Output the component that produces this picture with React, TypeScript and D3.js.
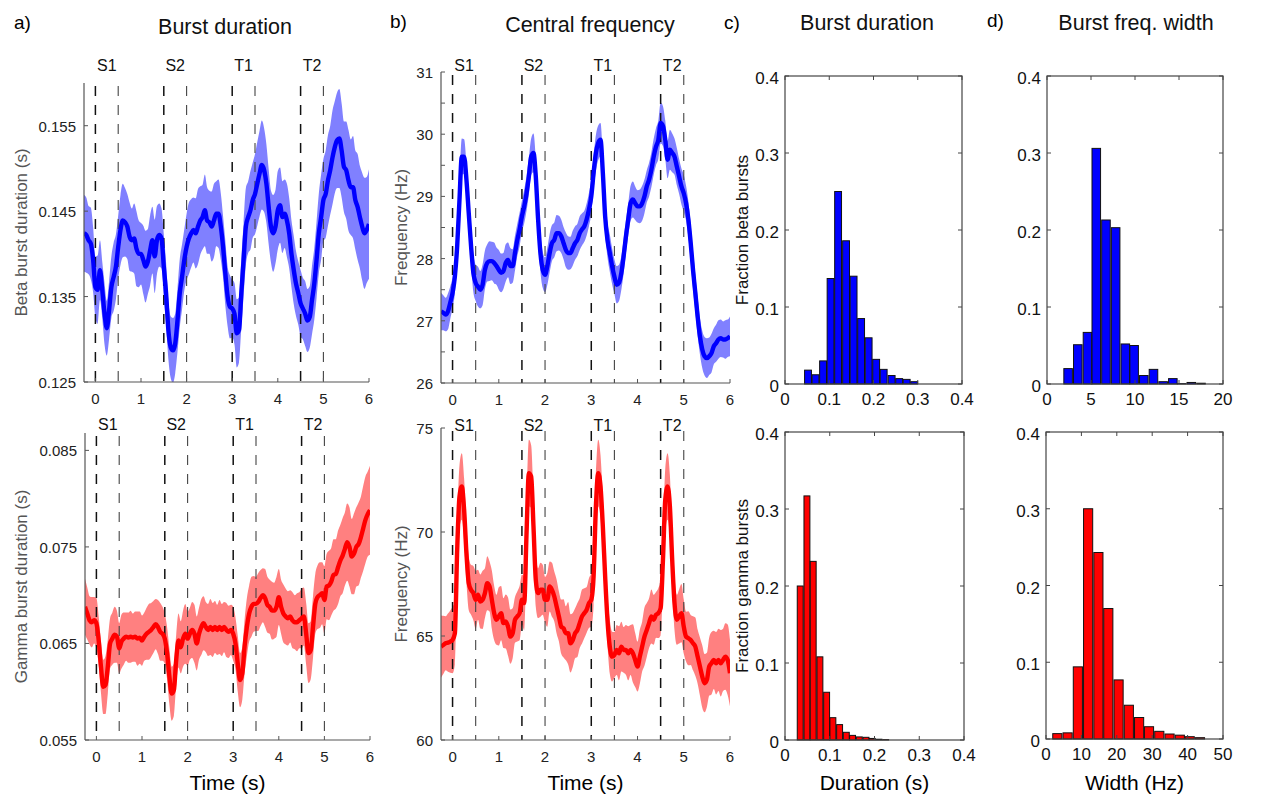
import React from 'react';
import * as d3 from 'd3';

const FONT = '"Liberation Sans", Arial, Helvetica, sans-serif';

// shared time grid of the trial-averaged traces (s)
const time = d3.range(-0.25, 6.0001, 0.05);

const eventLines = [0, 0.5, 1.5, 2, 3, 3.5, 4.5, 5];
const eventOnsets = [0, 1.5, 3, 4.5];
const eventNames = ['S1', 'S2', 'T1', 'T2'];
const eventMid = [0.25, 1.75, 3.25, 4.75];
const timeTicks = [0, 1, 2, 3, 4, 5, 6];

// a) beta burst duration (s)
const betaDurMean = [
  0.1424, 0.1422, 0.1416, 0.1412, 0.1393, 0.1361, 0.1358, 0.1381, 0.1358, 0.1330,
  0.1313, 0.1334, 0.1361, 0.1373, 0.1385, 0.1408, 0.1428, 0.1439, 0.1437, 0.1432,
  0.1420, 0.1416, 0.1418, 0.1406, 0.1400, 0.1400, 0.1393, 0.1385, 0.1391, 0.1404,
  0.1416, 0.1397, 0.1416, 0.1422, 0.1418, 0.1385, 0.1354, 0.1311, 0.1291, 0.1287,
  0.1295, 0.1322, 0.1354, 0.1373, 0.1393, 0.1408, 0.1418, 0.1424, 0.1428, 0.1424,
  0.1432, 0.1439, 0.1443, 0.1451, 0.1439, 0.1437, 0.1432, 0.1439, 0.1447, 0.1447,
  0.1432, 0.1408, 0.1377, 0.1350, 0.1338, 0.1336, 0.1330, 0.1307, 0.1311, 0.1354,
  0.1393, 0.1432, 0.1443, 0.1451, 0.1463, 0.1470, 0.1482, 0.1494, 0.1504, 0.1498,
  0.1482, 0.1455, 0.1432, 0.1424, 0.1432, 0.1451, 0.1457, 0.1443, 0.1447, 0.1439,
  0.1424, 0.1400, 0.1381, 0.1365, 0.1354, 0.1342, 0.1336, 0.1330, 0.1322, 0.1326,
  0.1346, 0.1365, 0.1393, 0.1424, 0.1443, 0.1463, 0.1470, 0.1486, 0.1498, 0.1513,
  0.1525, 0.1533, 0.1535, 0.1521, 0.1502, 0.1498, 0.1486, 0.1478, 0.1478, 0.1463,
  0.1455, 0.1443, 0.1432, 0.1424, 0.1428, 0.1435,
];
const betaDurSem = [
  0.0045, 0.0044, 0.0040, 0.0042, 0.0038, 0.0036, 0.0040, 0.0035, 0.0033, 0.0036,
  0.0032, 0.0034, 0.0036, 0.0040, 0.0038, 0.0037, 0.0041, 0.0043, 0.0040, 0.0038,
  0.0040, 0.0037, 0.0041, 0.0044, 0.0039, 0.0036, 0.0040, 0.0042, 0.0038, 0.0041,
  0.0039, 0.0043, 0.0040, 0.0037, 0.0035, 0.0038, 0.0036, 0.0034, 0.0036, 0.0038,
  0.0035, 0.0037, 0.0040, 0.0038, 0.0036, 0.0039, 0.0042, 0.0040, 0.0038, 0.0041,
  0.0044, 0.0040, 0.0038, 0.0042, 0.0039, 0.0037, 0.0041, 0.0043, 0.0038, 0.0040,
  0.0039, 0.0036, 0.0038, 0.0035, 0.0037, 0.0034, 0.0036, 0.0040, 0.0038, 0.0041,
  0.0043, 0.0045, 0.0042, 0.0046, 0.0044, 0.0047, 0.0049, 0.0050, 0.0052, 0.0049,
  0.0046, 0.0044, 0.0042, 0.0045, 0.0043, 0.0046, 0.0044, 0.0042, 0.0040, 0.0043,
  0.0041, 0.0039, 0.0040, 0.0038, 0.0037, 0.0039, 0.0036, 0.0038, 0.0037, 0.0036,
  0.0040, 0.0042, 0.0045, 0.0047, 0.0050, 0.0048, 0.0051, 0.0053, 0.0052, 0.0055,
  0.0054, 0.0056, 0.0058, 0.0055, 0.0053, 0.0057, 0.0059, 0.0056, 0.0060, 0.0058,
  0.0062, 0.0060, 0.0063, 0.0065, 0.0062, 0.0064,
];

// a) gamma burst duration (s)
const gammaDurMean = [
  0.0688, 0.0681, 0.0674, 0.0672, 0.0674, 0.0671, 0.0653, 0.0626, 0.0605, 0.0607,
  0.0626, 0.0650, 0.0655, 0.0659, 0.0657, 0.0645, 0.0652, 0.0655, 0.0657, 0.0656,
  0.0657, 0.0656, 0.0657, 0.0655, 0.0656, 0.0653, 0.0657, 0.0660, 0.0662, 0.0664,
  0.0667, 0.0670, 0.0667, 0.0662, 0.0660, 0.0655, 0.0640, 0.0616, 0.0598, 0.0602,
  0.0633, 0.0653, 0.0646, 0.0655, 0.0660, 0.0655, 0.0660, 0.0664, 0.0660, 0.0650,
  0.0660, 0.0667, 0.0671, 0.0667, 0.0664, 0.0667, 0.0664, 0.0667, 0.0664, 0.0667,
  0.0664, 0.0667, 0.0664, 0.0662, 0.0664, 0.0660, 0.0650, 0.0629, 0.0612, 0.0619,
  0.0647, 0.0667, 0.0681, 0.0688, 0.0691, 0.0691, 0.0693, 0.0697, 0.0700, 0.0697,
  0.0690, 0.0688, 0.0684, 0.0684, 0.0688, 0.0698, 0.0688, 0.0681, 0.0678, 0.0676,
  0.0678, 0.0674, 0.0672, 0.0672, 0.0674, 0.0676, 0.0678, 0.0660, 0.0640, 0.0643,
  0.0667, 0.0691, 0.0698, 0.0700, 0.0702, 0.0695, 0.0709, 0.0710, 0.0714, 0.0721,
  0.0722, 0.0729, 0.0736, 0.0741, 0.0748, 0.0755, 0.0750, 0.0740, 0.0743, 0.0750,
  0.0753, 0.0760, 0.0769, 0.0778, 0.0784, 0.0788,
];
const gammaDurSem = [
  0.0029, 0.0027, 0.0025, 0.0026, 0.0024, 0.0026, 0.0025, 0.0027, 0.0028, 0.0030,
  0.0028, 0.0026, 0.0027, 0.0029, 0.0027, 0.0026, 0.0028, 0.0027, 0.0025, 0.0026,
  0.0027, 0.0025, 0.0026, 0.0028, 0.0027, 0.0026, 0.0025, 0.0027, 0.0029, 0.0028,
  0.0027, 0.0026, 0.0028, 0.0030, 0.0028, 0.0026, 0.0027, 0.0029, 0.0028, 0.0027,
  0.0026, 0.0028, 0.0027, 0.0029, 0.0031, 0.0028, 0.0027, 0.0029, 0.0030, 0.0028,
  0.0027, 0.0029, 0.0028, 0.0026, 0.0027, 0.0029, 0.0028, 0.0027, 0.0026, 0.0028,
  0.0027, 0.0026, 0.0028, 0.0027, 0.0026, 0.0028, 0.0027, 0.0029, 0.0028, 0.0027,
  0.0028, 0.0030, 0.0029, 0.0031, 0.0029, 0.0028, 0.0030, 0.0029, 0.0028, 0.0030,
  0.0029, 0.0028, 0.0030, 0.0029, 0.0031, 0.0029, 0.0028, 0.0030, 0.0029, 0.0028,
  0.0027, 0.0029, 0.0028, 0.0030, 0.0029, 0.0031, 0.0030, 0.0032, 0.0031, 0.0030,
  0.0032, 0.0031, 0.0033, 0.0034, 0.0032, 0.0035, 0.0034, 0.0036, 0.0035, 0.0037,
  0.0036, 0.0038, 0.0037, 0.0039, 0.0038, 0.0040, 0.0041, 0.0039, 0.0042, 0.0041,
  0.0043, 0.0042, 0.0044, 0.0045, 0.0044, 0.0046,
];

// b) beta central frequency (Hz)
const betaFreqMean = [
  27.15, 27.13, 27.10, 27.15, 27.29, 27.45, 27.71, 28.20, 28.95, 29.64,
  29.64, 29.27, 28.73, 28.20, 27.77, 27.61, 27.55, 27.50, 27.58, 27.82,
  27.93, 27.96, 27.96, 27.93, 27.88, 27.82, 27.77, 27.80, 27.93, 27.98,
  27.88, 27.88, 28.09, 28.30, 28.47, 28.68, 28.84, 29.05, 29.32, 29.64,
  29.70, 29.32, 28.63, 28.09, 27.82, 27.74, 27.88, 28.09, 28.25, 28.30,
  28.41, 28.41, 28.36, 28.25, 28.14, 28.09, 28.09, 28.17, 28.25, 28.30,
  28.41, 28.47, 28.52, 28.63, 28.79, 29.00, 29.38, 29.70, 29.86, 29.91,
  29.38, 28.68, 28.30, 28.09, 27.88, 27.71, 27.58, 27.61, 27.77, 28.04,
  28.36, 28.63, 28.89, 28.95, 28.89, 28.84, 28.84, 28.89, 29.00, 29.16,
  29.27, 29.43, 29.64, 29.80, 29.91, 30.18, 30.13, 29.91, 29.59, 29.75,
  29.70, 29.64, 29.48, 29.32, 29.16, 29.05, 28.89, 28.63, 28.25, 27.82,
  27.45, 27.07, 26.75, 26.54, 26.43, 26.40, 26.43, 26.48, 26.59, 26.64,
  26.70, 26.72, 26.70, 26.70, 26.72, 26.75,
];
const betaFreqSem = [
  0.30, 0.28, 0.27, 0.29, 0.26, 0.25, 0.27, 0.28, 0.30, 0.29,
  0.28, 0.27, 0.29, 0.30, 0.31, 0.29, 0.32, 0.30, 0.33, 0.31,
  0.30, 0.32, 0.31, 0.33, 0.30, 0.32, 0.31, 0.29, 0.30, 0.28,
  0.29, 0.27, 0.28, 0.26, 0.27, 0.25, 0.27, 0.28, 0.30, 0.29,
  0.31, 0.29, 0.28, 0.30, 0.29, 0.28, 0.30, 0.31, 0.29, 0.28,
  0.29, 0.28, 0.27, 0.26, 0.28, 0.27, 0.26, 0.28, 0.27, 0.26,
  0.27, 0.26, 0.25, 0.26, 0.27, 0.28, 0.27, 0.29, 0.28, 0.27,
  0.26, 0.27, 0.28, 0.30, 0.29, 0.28, 0.30, 0.29, 0.27, 0.28,
  0.27, 0.26, 0.28, 0.29, 0.27, 0.26, 0.27, 0.28, 0.27, 0.26,
  0.27, 0.28, 0.29, 0.30, 0.31, 0.33, 0.32, 0.31, 0.30, 0.32,
  0.31, 0.29, 0.30, 0.28, 0.29, 0.30, 0.28, 0.29, 0.30, 0.31,
  0.30, 0.31, 0.29, 0.30, 0.31, 0.32, 0.30, 0.31, 0.29, 0.30,
  0.31, 0.30, 0.29, 0.31, 0.30, 0.32,
];

// b) gamma central frequency (Hz)
const gammaFreqMean = [
  64.49, 64.57, 64.65, 64.68, 64.73, 64.81, 65.13, 69.14, 71.71, 72.19,
  71.07, 68.98, 67.54, 67.22, 67.06, 66.74, 66.98, 66.66, 66.74, 67.06,
  67.54, 67.38, 66.74, 66.10, 65.78, 65.94, 66.10, 65.62, 65.70, 65.45,
  64.97, 65.13, 65.78, 65.94, 66.10, 66.74, 66.58, 69.95, 72.83, 72.67,
  70.27, 67.70, 67.06, 67.22, 67.22, 66.74, 66.74, 67.38, 67.22, 66.90,
  66.42, 65.94, 65.45, 65.37, 65.13, 65.13, 64.65, 64.81, 65.13, 65.29,
  65.62, 65.94, 66.10, 66.26, 66.58, 66.74, 67.86, 71.23, 72.83, 72.19,
  70.27, 67.86, 65.78, 64.49, 64.01, 64.09, 64.33, 64.17, 64.49, 64.33,
  64.33, 64.17, 64.33, 64.17, 63.85, 63.53, 64.01, 64.49, 64.97, 65.29,
  65.62, 65.94, 65.78, 66.02, 66.10, 66.34, 68.66, 71.55, 72.19, 71.23,
  68.66, 66.58, 65.78, 65.94, 66.10, 65.45, 64.97, 64.89, 64.81, 64.65,
  64.49, 64.01, 63.53, 63.05, 62.73, 62.89, 63.53, 63.69, 63.85, 63.69,
  63.85, 63.69, 63.85, 64.01, 63.85, 63.21,
];
const gammaFreqSem = [
  1.5, 1.4, 1.3, 1.4, 1.5, 1.6, 1.5, 1.4, 1.5, 1.6,
  1.5, 1.4, 1.3, 1.2, 1.3, 1.4, 1.2, 1.3, 1.4, 1.2,
  1.3, 1.2, 1.4, 1.3, 1.2, 1.4, 1.3, 1.2, 1.3, 1.4,
  1.3, 1.2, 1.1, 1.2, 1.3, 1.2, 1.3, 1.5, 1.6, 1.5,
  1.4, 1.3, 1.2, 1.3, 1.2, 1.1, 1.3, 1.2, 1.3, 1.2,
  1.3, 1.2, 1.3, 1.4, 1.3, 1.5, 1.4, 1.3, 1.2, 1.3,
  1.2, 1.3, 1.2, 1.1, 1.2, 1.3, 1.4, 1.5, 1.6, 1.5,
  1.4, 1.3, 1.2, 1.3, 1.2, 1.1, 1.2, 1.3, 1.2, 1.1,
  1.2, 1.3, 1.2, 1.4, 1.3, 1.2, 1.3, 1.2, 1.4, 1.3,
  1.2, 1.3, 1.2, 1.1, 1.2, 1.3, 1.4, 1.5, 1.6, 1.5,
  1.4, 1.3, 1.2, 1.3, 1.4, 1.3, 1.2, 1.3, 1.2, 1.3,
  1.4, 1.3, 1.4, 1.5, 1.4, 1.3, 1.4, 1.5, 1.4, 1.5,
  1.5, 1.6, 1.5, 1.6, 1.7, 1.6,
];

// c) / d) histograms: bin centres and fraction of bursts
const betaDurBins = [0.052, 0.069, 0.086, 0.103, 0.120, 0.138, 0.155, 0.172, 0.189, 0.206, 0.223, 0.241, 0.258, 0.275, 0.292];
const betaDurFrac = [0.018, 0.012, 0.030, 0.137, 0.250, 0.186, 0.140, 0.085, 0.060, 0.032, 0.019, 0.011, 0.007, 0.006, 0.003];
const betaWidthBins = [2.4, 3.5, 4.6, 5.6, 6.7, 7.8, 8.9, 9.9, 11.0, 12.1, 13.2, 14.3, 15.3, 16.4, 17.5];
const betaWidthFrac = [0.020, 0.051, 0.067, 0.306, 0.213, 0.203, 0.052, 0.050, 0.011, 0.019, 0.003, 0.007, 0.0005, 0.002, 0.001];
const gammaDurBins = [0.034, 0.049, 0.063, 0.078, 0.093, 0.107, 0.122, 0.137, 0.151, 0.166, 0.181, 0.195, 0.210, 0.225];
const gammaDurFrac = [0.200, 0.317, 0.232, 0.108, 0.062, 0.029, 0.020, 0.010, 0.006, 0.004, 0.0035, 0.002, 0.001, 0.0005];
const gammaWidthBins = [3.2, 6.1, 9.0, 11.9, 14.8, 17.6, 20.5, 23.4, 26.3, 29.1, 32.0, 34.9, 37.8, 40.6, 43.5];
const gammaWidthFrac = [0.007, 0.008, 0.094, 0.300, 0.243, 0.170, 0.077, 0.044, 0.028, 0.016, 0.010, 0.0065, 0.005, 0.003, 0.0017];

const fracTicks = [0, 0.1, 0.2, 0.3, 0.4];
const durTicks = [0, 0.1, 0.2, 0.3, 0.4];
const betaWidthTicks = [0, 5, 10, 15, 20];
const gammaWidthTicks = [0, 10, 20, 30, 40, 50];

type Box = { left: number; right: number; top: number; bottom: number };

const TimePanel = ({ id, box, yDomain, yTicks, yLabels, fmt, mean, sem, line, band, ylabel, ylabelX, eventY, xlabel }: any) => {
  const x = d3.scaleLinear().domain([-0.25, 6]).range([box.left, box.right]);
  const y = d3.scaleLinear().domain(yDomain).range([box.bottom, box.top]);
  const pts = time.map((t, i) => ({ t, m: mean[i], s: sem[i] }));
  const area = d3.area<any>()
    .x(d => x(d.t)).y0(d => y(d.m - d.s)).y1(d => y(d.m + d.s))
    .curve(d3.curveMonotoneX);
  const ln = d3.line<any>().x(d => x(d.t)).y(d => y(d.m)).curve(d3.curveMonotoneX);
  const axisColor = '#555';
  return (
    <g>
      <clipPath id={id}>
        <rect x={box.left} y={box.top} width={box.right - box.left} height={box.bottom - box.top} />
      </clipPath>
      <g clipPath={`url(#${id})`}>
        <path d={area(pts) || ''} fill={band} stroke="none" />
      </g>
      {eventLines.map(t => {
        const onset = eventOnsets.includes(t);
        return (
          <line key={t} x1={x(t)} x2={x(t)} y1={box.top + 3} y2={box.bottom}
            stroke={onset ? '#111' : '#444'} strokeWidth={onset ? 1.5 : 1.1} strokeDasharray="10,9" />
        );
      })}
      <g clipPath={`url(#${id})`}>
        <path d={ln(pts) || ''} fill="none" stroke={line} strokeWidth={4.4} strokeLinejoin="round" />
      </g>
      {eventNames.map((n, i) => (
        <text key={n} x={x(eventMid[i])} y={eventY} textAnchor="middle" fontSize={16} fill="#111">{n}</text>
      ))}
      {/* axes */}
      <line x1={box.left} x2={box.left} y1={box.top} y2={box.bottom} stroke={axisColor} strokeWidth={1.2} />
      <line x1={box.left} x2={box.right} y1={box.bottom} y2={box.bottom} stroke={axisColor} strokeWidth={1.2} />
      {yTicks.map((v: number) => (
        <line key={'yt' + v} x1={box.left} x2={box.left + 4} y1={y(v)} y2={y(v)} stroke={axisColor} />
      ))}
      {yLabels.map((v: number) => (
        <text key={'yl' + v} x={box.left - 8} y={y(v) + 6} textAnchor="end" fontSize={15} fill="#222">{fmt(v)}</text>
      ))}
      {timeTicks.map(t => (
        <g key={'xt' + t}>
          <line x1={x(t)} x2={x(t)} y1={box.bottom} y2={box.bottom - 4} stroke={axisColor} />
          <text x={x(t)} y={box.bottom + 22} textAnchor="middle" fontSize={15} fill="#222">{t}</text>
        </g>
      ))}
      <text transform={`translate(${ylabelX},${(box.top + box.bottom) / 2}) rotate(-90)`}
        textAnchor="middle" fontSize={17} fill="#555">{ylabel}</text>
      {xlabel && (
        <text x={(box.left + box.right) / 2} y={790} textAnchor="middle" fontSize={21} fill="#000">{xlabel}</text>
      )}
    </g>
  );
};

const HistPanel = ({ box, xDomain, xTicks, bins, frac, binWidth, fill, ylabel, xlabel }: any) => {
  const x = d3.scaleLinear().domain(xDomain).range([box.left, box.right]);
  const y = d3.scaleLinear().domain([0, 0.4]).range([box.bottom, box.top]);
  const w = x(binWidth * 0.9) - x(0);
  const axisColor = '#444';
  return (
    <g>
      {bins.map((c: number, i: number) => (
        <rect key={i} x={x(c) - w / 2} y={y(frac[i])} width={w} height={y(0) - y(frac[i])}
          fill={fill} stroke="#111" strokeWidth={1} />
      ))}
      <rect x={box.left} y={box.top} width={box.right - box.left} height={box.bottom - box.top}
        fill="none" stroke={axisColor} strokeWidth={1.2} />
      {fracTicks.map(v => (
        <g key={'y' + v}>
          <line x1={box.left} x2={box.left + 4} y1={y(v)} y2={y(v)} stroke={axisColor} />
          <line x1={box.right} x2={box.right - 4} y1={y(v)} y2={y(v)} stroke={axisColor} />
          <text x={box.left - 6} y={y(v) + 8} textAnchor="end" fontSize={17} fill="#111">{v}</text>
        </g>
      ))}
      {xTicks.map((v: number) => (
        <g key={'x' + v}>
          <line x1={x(v)} x2={x(v)} y1={box.bottom} y2={box.bottom - 4} stroke={axisColor} />
          <line x1={x(v)} x2={x(v)} y1={box.top} y2={box.top + 4} stroke={axisColor} />
          <text x={x(v)} y={box.bottom + 21} textAnchor="middle" fontSize={17} fill="#111">{v}</text>
        </g>
      ))}
      {ylabel && (
        <text transform={`translate(${box.left - 37},${(box.top + box.bottom) / 2}) rotate(-90)`}
          textAnchor="middle" fontSize={17} fill="#111">{ylabel}</text>
      )}
      {xlabel && (
        <text x={(box.left + box.right) / 2} y={790} textAnchor="middle" fontSize={21} fill="#000">{xlabel}</text>
      )}
    </g>
  );
};

const boxA1: Box = { left: 84, right: 369, top: 83, bottom: 382 };
const boxA2: Box = { left: 85, right: 370, top: 433, bottom: 740 };
const boxB1: Box = { left: 441, right: 730, top: 72, bottom: 383 };
const boxB2: Box = { left: 441, right: 730, top: 428, bottom: 740 };
const boxC1: Box = { left: 785, right: 962, top: 76, bottom: 384 };
const boxD1: Box = { left: 1047, right: 1223, top: 76, bottom: 384 };
const boxC2: Box = { left: 785, right: 964, top: 432, bottom: 740 };
const boxD2: Box = { left: 1046, right: 1223, top: 432, bottom: 739 };

const f3 = (v: number) => v.toFixed(3);
const f0 = (v: number) => String(v);

export default function App() {
  return (
    <svg width={1266} height={797} style={{ position: 'absolute', left: 0, top: 0, background: '#fff' }}
      fontFamily={FONT}>
      <rect width={1266} height={797} fill="#fff" />
      <text x={14} y={29} fontSize={19} fill="#000">a)</text>
      <text x={390} y={28} fontSize={19} fill="#000">b)</text>
      <text x={724} y={29} fontSize={19} fill="#000">c)</text>
      <text x={987} y={27} fontSize={19} fill="#000">d)</text>
      <text x={225} y={34} textAnchor="middle" fontSize={21.5} fill="#111">Burst duration</text>
      <text x={590} y={32} textAnchor="middle" fontSize={21.5} fill="#111">Central frequency</text>
      <text x={867} y={30} textAnchor="middle" fontSize={21.5} fill="#111">Burst duration</text>
      <text x={1136} y={30} textAnchor="middle" fontSize={21.5} fill="#111">Burst freq. width</text>

      <TimePanel id="ca1" box={boxA1} yDomain={[0.125, 0.16]} yTicks={[0.125, 0.135, 0.145, 0.155]}
        yLabels={[0.125, 0.135, 0.145, 0.155]} fmt={f3} mean={betaDurMean} sem={betaDurSem}
        line="#0000ff" band="#8080ff" ylabel="Beta burst duration (s)" ylabelX={27} eventY={71} />
      <TimePanel id="ca2" box={boxA2} yDomain={[0.055, 0.0868]} yTicks={[0.055, 0.065, 0.075, 0.085]}
        yLabels={[0.055, 0.065, 0.075, 0.085]} fmt={f3} mean={gammaDurMean} sem={gammaDurSem}
        line="#ff0000" band="#ff8080" ylabel="Gamma burst duration (s)" ylabelX={27} eventY={430}
        xlabel="Time (s)" />
      <TimePanel id="cb1" box={boxB1} yDomain={[26, 31]}
        yTicks={[26, 26.5, 27, 27.5, 28, 28.5, 29, 29.5, 30, 30.5, 31]}
        yLabels={[26, 27, 28, 29, 30, 31]} fmt={f0} mean={betaFreqMean} sem={betaFreqSem}
        line="#0000ff" band="#8080ff" ylabel="Frequency (Hz)" ylabelX={407} eventY={71} />
      <TimePanel id="cb2" box={boxB2} yDomain={[60, 75]} yTicks={[60, 65, 70, 75]}
        yLabels={[60, 65, 70, 75]} fmt={f0} mean={gammaFreqMean} sem={gammaFreqSem}
        line="#ff0000" band="#ff8080" ylabel="Frequency (Hz)" ylabelX={407} eventY={431}
        xlabel="Time (s)" />

      <HistPanel box={boxC1} xDomain={[0, 0.4]} xTicks={durTicks} bins={betaDurBins} frac={betaDurFrac}
        binWidth={0.0172} fill="#0000ff" ylabel="Fraction beta bursts" />
      <HistPanel box={boxD1} xDomain={[0, 20]} xTicks={betaWidthTicks} bins={betaWidthBins} frac={betaWidthFrac}
        binWidth={1.08} fill="#0000ff" />
      <HistPanel box={boxC2} xDomain={[0, 0.4]} xTicks={durTicks} bins={gammaDurBins} frac={gammaDurFrac}
        binWidth={0.0147} fill="#ff0000" ylabel="Fraction gamma bursts" xlabel="Duration (s)" />
      <HistPanel box={boxD2} xDomain={[0, 50]} xTicks={gammaWidthTicks} bins={gammaWidthBins} frac={gammaWidthFrac}
        binWidth={2.87} fill="#ff0000" xlabel="Width (Hz)" />
    </svg>
  );
}
